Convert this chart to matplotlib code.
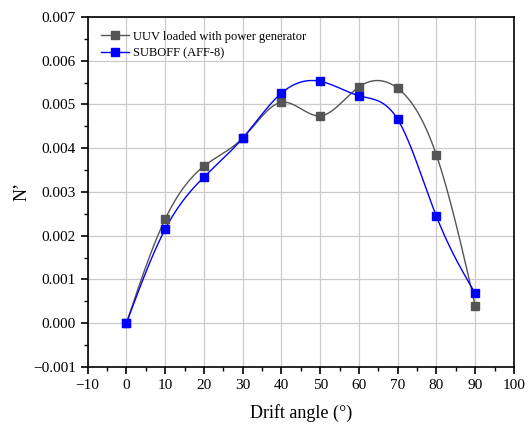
import numpy as np
import matplotlib
matplotlib.use("Agg")
import matplotlib.pyplot as plt
from matplotlib.ticker import MultipleLocator

angles = [0, 10, 20, 30, 40, 50, 60, 70, 80, 90]
uuv = [0.0, 0.00238, 0.00359, 0.00423, 0.00505, 0.00474, 0.00540, 0.00537, 0.00384, 0.00040]
suboff = [0.0, 0.00215, 0.00334, 0.00423, 0.00526, 0.00553, 0.00520, 0.00466, 0.00244, 0.00068]
labels = ["UUV loaded with power generator", "SUBOFF (AFF-8)"]
colors = ["#555555", "#0000FF"]


def natural_spline(x, y, n=400):
    x = np.asarray(x, float); y = np.asarray(y, float)
    m = len(x); h = np.diff(x)
    A = np.zeros((m, m)); b = np.zeros(m)
    A[0, 0] = 1; A[-1, -1] = 1
    for i in range(1, m - 1):
        A[i, i - 1] = h[i - 1]; A[i, i] = 2 * (h[i - 1] + h[i]); A[i, i + 1] = h[i]
        b[i] = 3 * ((y[i + 1] - y[i]) / h[i] - (y[i] - y[i - 1]) / h[i - 1])
    c = np.linalg.solve(A, b)
    xs = np.linspace(x[0], x[-1], n); ys = np.empty_like(xs)
    for k, xv in enumerate(xs):
        i = min(np.searchsorted(x, xv, side="right") - 1, m - 2)
        d = xv - x[i]
        bb = (y[i + 1] - y[i]) / h[i] - h[i] * (2 * c[i] + c[i + 1]) / 3
        dd = (c[i + 1] - c[i]) / (3 * h[i])
        ys[k] = y[i] + bb * d + c[i] * d ** 2 + dd * d ** 3
    return xs, ys


plt.rcParams["font.family"] = ["Liberation Serif", "DejaVu Serif"]
fig = plt.figure(figsize=(5.31, 4.25), dpi=100)
ax = fig.add_axes([0.165, 0.1365, 0.803, 0.8235])

for ser, lab, col in zip([uuv, suboff], labels, colors):
    xs, ys = natural_spline(angles, ser)
    ax.plot(xs, ys, color=col, lw=1.0, zorder=3)
    ax.plot(angles, ser, ls="none", marker="s", ms=5.3, color=col, zorder=4)
    ax.plot([], [], color=col, lw=1.0, marker="s", ms=5.3, label=lab)

ax.set_xlim(-10, 100)
ax.set_ylim(-0.001, 0.007)
ax.xaxis.set_major_locator(MultipleLocator(10))
ax.xaxis.set_minor_locator(MultipleLocator(5))
ax.yaxis.set_major_locator(MultipleLocator(0.001))
ax.yaxis.set_minor_locator(MultipleLocator(0.0005))
ax.yaxis.set_major_formatter(matplotlib.ticker.FuncFormatter(lambda v, p: f"{v:.3f}".replace("-", "\u2212")))
ax.grid(True, which="major", color="#cbcbcb", lw=0.9, zorder=0)
ax.tick_params(which="both", direction="out", top=False, right=False, labelsize=11)
ax.tick_params(which="major", length=5, width=1.2)
ax.tick_params(which="minor", length=3, width=1.0)
for s in ax.spines.values():
    s.set_linewidth(1.2)
ax.set_xlabel("Drift angle (\u00b0)", fontsize=13, labelpad=9)
ax.set_ylabel("N\u2019", fontsize=13, labelpad=2)
ax.legend(loc="upper left", frameon=False, fontsize=9, handlelength=2.2,
          borderaxespad=0.7, labelspacing=0.4, handletextpad=0.3)
fig.savefig("out.png", dpi=100)
